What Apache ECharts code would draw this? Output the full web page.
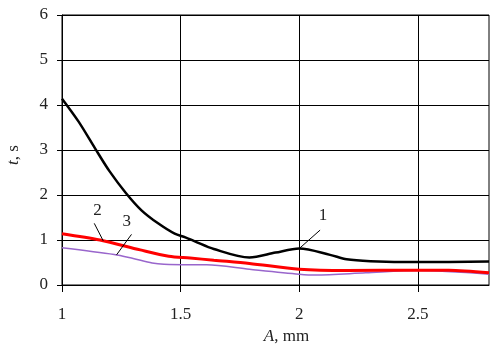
<!DOCTYPE html>
<html>
<head>
<meta charset="utf-8">
<script src="https://cdn.jsdelivr.net/npm/echarts@6/dist/echarts.min.js"></script>
<style>
  html, body { margin: 0; padding: 0; background: #fff; }
  #main { width: 493px; height: 344px; }
</style>
</head>
<body>
<div id="main"></div>
<script>
// curve 1 (black)
var a1 = [1, 1.07, 1.14, 1.2, 1.27, 1.335, 1.405, 1.475, 1.52, 1.56, 1.64, 1.79, 1.9, 2.0, 2.13, 2.2, 2.3, 2.5, 2.8];
var t1 = [4.14, 3.63, 3.03, 2.53, 2.04, 1.66, 1.37, 1.14, 1.06, 0.97, 0.80, 0.61, 0.72, 0.81, 0.67, 0.57, 0.53, 0.51, 0.52];
// curve 2 (red)
var a2 = [1, 1.16, 1.33, 1.45, 1.54, 1.64, 1.79, 2.0, 2.2, 2.5, 2.63, 2.8];
var t2 = [1.14, 1.0, 0.78, 0.64, 0.6, 0.55, 0.48, 0.35, 0.32, 0.33, 0.33, 0.27];
// curve 3 (purple)
var a3 = [1, 1.22, 1.3, 1.38, 1.43, 1.54, 1.61, 1.79, 2.0, 2.07, 2.28, 2.5, 2.8];
var t3 = [0.83, 0.68, 0.59, 0.49, 0.46, 0.45, 0.45, 0.35, 0.24, 0.22, 0.27, 0.32, 0.24];

var xTicks = [1, 1.5, 2, 2.5];

// curve numbers: leader line start, leader line end, text position (data units)
var tagNames = ['1', '2', '3'];
var tagFrom = [[2.0, 0.81], [1.174, 0.98], [1.23, 0.67]];
var tagTo = [[2.088, 1.22], [1.136, 1.37], [1.293, 1.125]];
var tagText = [[2.1, 1.54], [1.15, 1.66], [1.273, 1.42]];

function pairs(xs, ys) {
	var out = [];
	for (var i = 0; i < xs.length; i++) out.push([xs[i], ys[i]]);
	return out;
}

function tag(i) {
	return {
		silent: true,
		markLine: {
			symbol: 'none',
			label: { show: false },
			lineStyle: { color: '#000', width: 1, type: 'solid' },
			data: [[{ coord: tagFrom[i] }, { coord: tagTo[i] }]]
		},
		markPoint: {
			symbol: 'circle',
			symbolSize: 1,
			itemStyle: { color: 'rgba(0,0,0,0)' },
			label: {
				show: true,
				position: 'inside',
				formatter: tagNames[i],
				color: '#222',
				fontFamily: 'Liberation Serif',
				fontSize: 17
			},
			data: [{ coord: tagText[i] }]
		}
	};
}

var chartObj = echarts.init(document.getElementById('main'));

var font = 'Liberation Serif';

var option = {
	animation: false,
	backgroundColor: '#fff',
	grid: {
		left: 62, right: 4, top: 15, bottom: 59,
		containLabel: false,
		outerBoundsMode: 'none',
		show: true, borderColor: '#000', borderWidth: 1
	},
	xAxis: {
		type: 'value',
		min: 1, max: 2.8, interval: 0.5,
		name: '{i|A}, mm',
		nameLocation: 'middle',
		nameGap: 39,
		nameTextStyle: {
			color: '#222', fontFamily: font, fontSize: 17,
			padding: [0, 0, 0, 22],
			rich: { i: { fontStyle: 'italic', fontFamily: font, fontSize: 17, color: '#222' } }
		},
		axisLine: { onZero: false, lineStyle: { color: '#000', width: 1 } },
		axisTick: { show: true, length: 7, inside: false, customValues: xTicks, lineStyle: { color: '#000' } },
		axisLabel: { customValues: xTicks, margin: 21, color: '#222', fontFamily: font, fontSize: 17 },
		splitLine: { show: true, lineStyle: { color: '#000', width: 1 } }
	},
	yAxis: {
		type: 'value',
		min: 0, max: 6, interval: 1,
		name: '{i|t}, s',
		nameLocation: 'middle',
		nameGap: 40,
		nameRotate: 90,
		nameTextStyle: {
			color: '#222', fontFamily: font, fontSize: 17,
			padding: [0, 10, 0, 0],
			rich: { i: { fontStyle: 'italic', fontFamily: font, fontSize: 17, color: '#222' } }
		},
		axisLine: { show: true, lineStyle: { color: '#000', width: 1 } },
		axisTick: { show: true, length: 5, lineStyle: { color: '#000' } },
		axisLabel: { margin: 14, color: '#222', fontFamily: font, fontSize: 17 },
		splitLine: { show: true, lineStyle: { color: '#000', width: 1 } }
	},
	series: [
		Object.assign({
			type: 'line', name: '1', data: pairs(a1, t1), smooth: 0.3,
			showSymbol: false, z: 5,
			lineStyle: { color: '#000', width: 2.5 }
		}, tag(0)),
		Object.assign({
			type: 'line', name: '2', data: pairs(a2, t2), smooth: 0.3,
			showSymbol: false, z: 4,
			lineStyle: { color: '#ff0000', width: 3 }
		}, tag(1)),
		Object.assign({
			type: 'line', name: '3', data: pairs(a3, t3), smooth: 0.3,
			showSymbol: false, z: 3,
			lineStyle: { color: '#9966cc', width: 1.5 }
		}, tag(2))
	]
};

chartObj.setOption(option);
</script>
</body>
</html>
